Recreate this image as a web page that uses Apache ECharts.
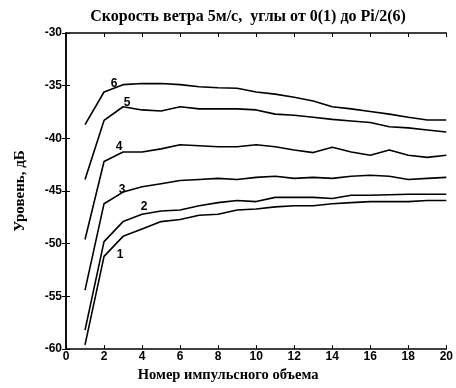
<!DOCTYPE html>
<html><head><meta charset="utf-8">
<script src="https://cdn.jsdelivr.net/npm/echarts@6/dist/echarts.min.js"></script>
<style>html,body{margin:0;padding:0;background:#fff}#c{width:456px;height:388px}</style>
</head><body><div id="c"></div>
<script>
const xValues = [1,2,3,4,5,6,7,8,9,10,11,12,13,14,15,16,17,18,19,20];
const curve1 = [-59.6,-51.2,-49.3,-48.6,-47.9,-47.7,-47.3,-47.2,-46.8,-46.7,-46.5,-46.4,-46.4,-46.2,-46.1,-46.0,-46.0,-46.0,-45.9,-45.9];
const curve2 = [-58.2,-49.8,-47.9,-47.2,-46.9,-46.8,-46.4,-46.1,-45.9,-46.0,-45.6,-45.6,-45.6,-45.7,-45.4,-45.4,-45.35,-45.3,-45.3,-45.3];
const curve3 = [-54.4,-46.2,-45.1,-44.6,-44.3,-44.0,-43.9,-43.8,-43.9,-43.7,-43.6,-43.8,-43.7,-43.8,-43.6,-43.5,-43.6,-43.9,-43.8,-43.7];
const curve4 = [-49.6,-42.2,-41.3,-41.3,-41.0,-40.6,-40.7,-40.8,-40.8,-40.6,-40.8,-41.1,-41.35,-40.85,-41.3,-41.6,-41.1,-41.6,-41.8,-41.6];
const curve5 = [-43.9,-38.3,-37.0,-37.3,-37.4,-37.0,-37.2,-37.2,-37.2,-37.3,-37.7,-37.8,-38.0,-38.2,-38.35,-38.5,-38.9,-39.0,-39.2,-39.4];
const curve6 = [-38.7,-35.6,-34.9,-34.8,-34.8,-34.9,-35.1,-35.2,-35.25,-35.6,-35.8,-36.1,-36.45,-37.0,-37.2,-37.45,-37.7,-38.0,-38.25,-38.25];
const curveNames = ['1','2','3','4','5','6'];
const curves = [curve1, curve2, curve3, curve4, curve5, curve6];
// which x index carries the curve number label, and label placement
const labelAt = [2, 3, 2, 2, 2, 1];
const labelPos = ['bottom','top','top','top','top','top'];
const labelOff = [[-3,10],[2,0],[-1,6],[-4,3],[4,4],[10,0]];

const titleText = 'Скорость ветра 5м/с,  углы от 0(1) до Pi/2(6)';
const xTitle = 'Номер импульсного объема';
const yTitle = 'Уровень, дБ';

const serif = '"Liberation Serif", "DejaVu Serif", serif';
const sans = '"Liberation Sans", Arial, sans-serif';

const chart = echarts.init(document.getElementById('c'), null, {renderer:'canvas'});
const series = curves.map((c, k) => ({
  type: 'line',
  name: curveNames[k],
  xAxisIndex: 0, yAxisIndex: 0,
  showSymbol: true,
  showAllSymbol: true,
  symbol: 'circle',
  symbolSize: 0.01,
  itemStyle: {color: 'rgba(0,0,0,0)'},
  lineStyle: {color: '#000', width: 1.6},
  data: c.map((v, i) => {
    const item = {value: [xValues[i], v]};
    if (i === labelAt[k]) {
      item.label = {show: true, formatter: curveNames[k], position: labelPos[k], offset: labelOff[k],
        color: '#000', fontFamily: sans, fontSize: 12, fontWeight: 'bold', distance: 2};
    }
    return item;
  })
}));

chart.setOption({
  animation: false,
  backgroundColor: '#fff',
  title: {text: titleText, left: 243, textAlign: 'center', top: 4,
    textStyle: {fontFamily: serif, fontSize: 16, fontWeight: 'bold', color: '#000'}},
  grid: {left: 66, right: 6, top: 33, bottom: 35, show: false},
  xAxis: [{
    type: 'value', min: 0, max: 20, interval: 2, position: 'bottom',
    name: xTitle, nameLocation: 'middle', nameGap: 17,
    nameTextStyle: {fontFamily: serif, fontSize: 14.5, fontWeight: 'bold', color: '#000', padding: [0, 56, 0, 0]},
    axisLine: {show: true, lineStyle: {color: '#000', width: 1.5}},
    axisTick: {show: true, inside: true, length: 4, lineStyle: {color: '#000'}},
    axisLabel: {fontFamily: sans, fontSize: 12, fontWeight: 'bold', color: '#000', margin: 2},
    splitLine: {show: false}
  }, {
    type: 'value', min: 0, max: 20, interval: 2, position: 'top',
    axisLine: {show: true, lineStyle: {color: '#000', width: 1.5}},
    axisTick: {show: true, inside: true, length: 4, lineStyle: {color: '#000'}},
    axisLabel: {show: false}, splitLine: {show: false}
  }],
  yAxis: [{
    type: 'value', min: -60, max: -30, interval: 5, position: 'left',
    name: yTitle, nameLocation: 'middle', nameGap: 38, nameRotate: 90,
    nameTextStyle: {fontFamily: serif, fontSize: 15, fontWeight: 'bold', color: '#000'},
    axisLine: {show: true, lineStyle: {color: '#000', width: 1.5}},
    axisTick: {show: true, inside: true, length: 4, lineStyle: {color: '#000'}},
    axisLabel: {fontFamily: sans, fontSize: 12, fontWeight: 'bold', color: '#000', margin: 4},
    splitLine: {show: false}
  }, {
    type: 'value', min: -60, max: -30, interval: 5, position: 'right',
    axisLine: {show: true, lineStyle: {color: '#000', width: 1.5}},
    axisTick: {show: true, inside: true, length: 4, lineStyle: {color: '#000'}},
    axisLabel: {show: false}, splitLine: {show: false}
  }],
  series: series
});
</script></body></html>
